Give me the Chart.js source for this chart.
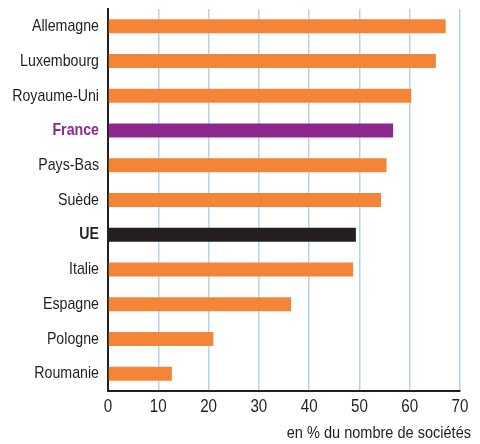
<!DOCTYPE html>
<html><head><meta charset="utf-8">
<script src="https://cdn.jsdelivr.net/npm/chart.js@4/dist/chart.umd.min.js"></script>
<style>html,body{margin:0;padding:0;background:#fff}#wrap{width:480px;height:444px;position:relative}</style>
</head><body><div id="wrap"><canvas id="c"></canvas></div>
<script>
const categories = ["Allemagne","Luxembourg","Royaume-Uni","France","Pays-Bas","Suède","UE","Italie","Espagne","Pologne","Roumanie"];
const values = [67.15, 65.2, 60.3, 56.7, 55.4, 54.3, 49.3, 48.75, 36.4, 20.95, 12.7];
const xTicks = [0,10,20,30,40,50,60,70];
const axisTitle = "en % du nombre de sociétés";

const FONT = "'Liberation Sans',Arial,sans-serif";
const colorFor = c => c === "France" ? "#8e288e" : (c === "UE" ? "#231f20" : "#f58536");
const labelColor = c => c === "France" ? "#8e288e" : "#231f20";
const isBold = c => c === "France" || c === "UE";

// horizontally condense axis text (narrow typeface look)
const CONDENSE = { y: { labels: 0.835, title: 1, dx: 0 }, x: { labels: 0.82, title: 0.855, dx: 11 } };
function wrap(s, name, sx, dx) {
  const orig = s[name];
  s[name] = function (...args) {
    const ctx = this.ctx, t = ctx.translate;
    ctx.translate = function (x, y) { t.call(this, x + dx, y); this.scale(sx, 1); };
    try { return orig.apply(this, args); } finally { ctx.translate = t; }
  };
}
const condensePlugin = {
  id: 'condense',
  beforeDraw(chart) {
    for (const id of Object.keys(CONDENSE)) {
      const s = chart.scales[id];
      if (!s || s._condensed) continue;
      s._condensed = true;
      wrap(s, 'drawLabels', CONDENSE[id].labels, 0);
      wrap(s, 'drawTitle', CONDENSE[id].title, CONDENSE[id].dx);
    }
  }
};

new Chart(document.getElementById('c'), {
  type: 'bar',
  data: {
    labels: categories,
    datasets: [{
      data: values,
      backgroundColor: categories.map(colorFor),
      borderWidth: 0,
      barPercentage: 0.403,
      categoryPercentage: 1
    }]
  },
  plugins: [condensePlugin],
  options: {
    indexAxis: 'y',
    responsive: true,
    maintainAspectRatio: false,
    animation: false,
    layout: { padding: { top: 9, right: 20, left: 0, bottom: 0 } },
    plugins: { legend: { display: false }, tooltip: { enabled: false } },
    scales: {
      x: {
        min: 0, max: 70,
        afterBuildTicks: s => { s.ticks = xTicks.map(v => ({ value: v })); },
        grid: { color: '#b3d4ee', lineWidth: 1.5, drawTicks: false },
        border: { color: '#231f20', width: 2 },
        ticks: { color: '#231f20', font: { family: FONT, size: 18.5 }, padding: 5 },
        title: { display: true, text: axisTitle, align: 'end', color: '#231f20', font: { family: FONT, size: 17 }, padding: { top: 0, bottom: 0 } },
        afterFit: s => { s.height = 53; s.paddingLeft = 0; s.paddingRight = 0; }
      },
      y: {
        grid: { display: false, drawTicks: false },
        border: { color: '#231f20', width: 2 },
        ticks: {
          color: ctx => labelColor(categories[ctx.index]),
          font: ctx => ({ family: FONT, size: 17, weight: isBold(categories[ctx.index]) ? 'bold' : 'normal' }),
          padding: 9
        },
        afterFit: s => { s.width = 108; s.paddingTop = 0; s.paddingBottom = 0; }
      }
    }
  }
});
</script>
</body></html>
